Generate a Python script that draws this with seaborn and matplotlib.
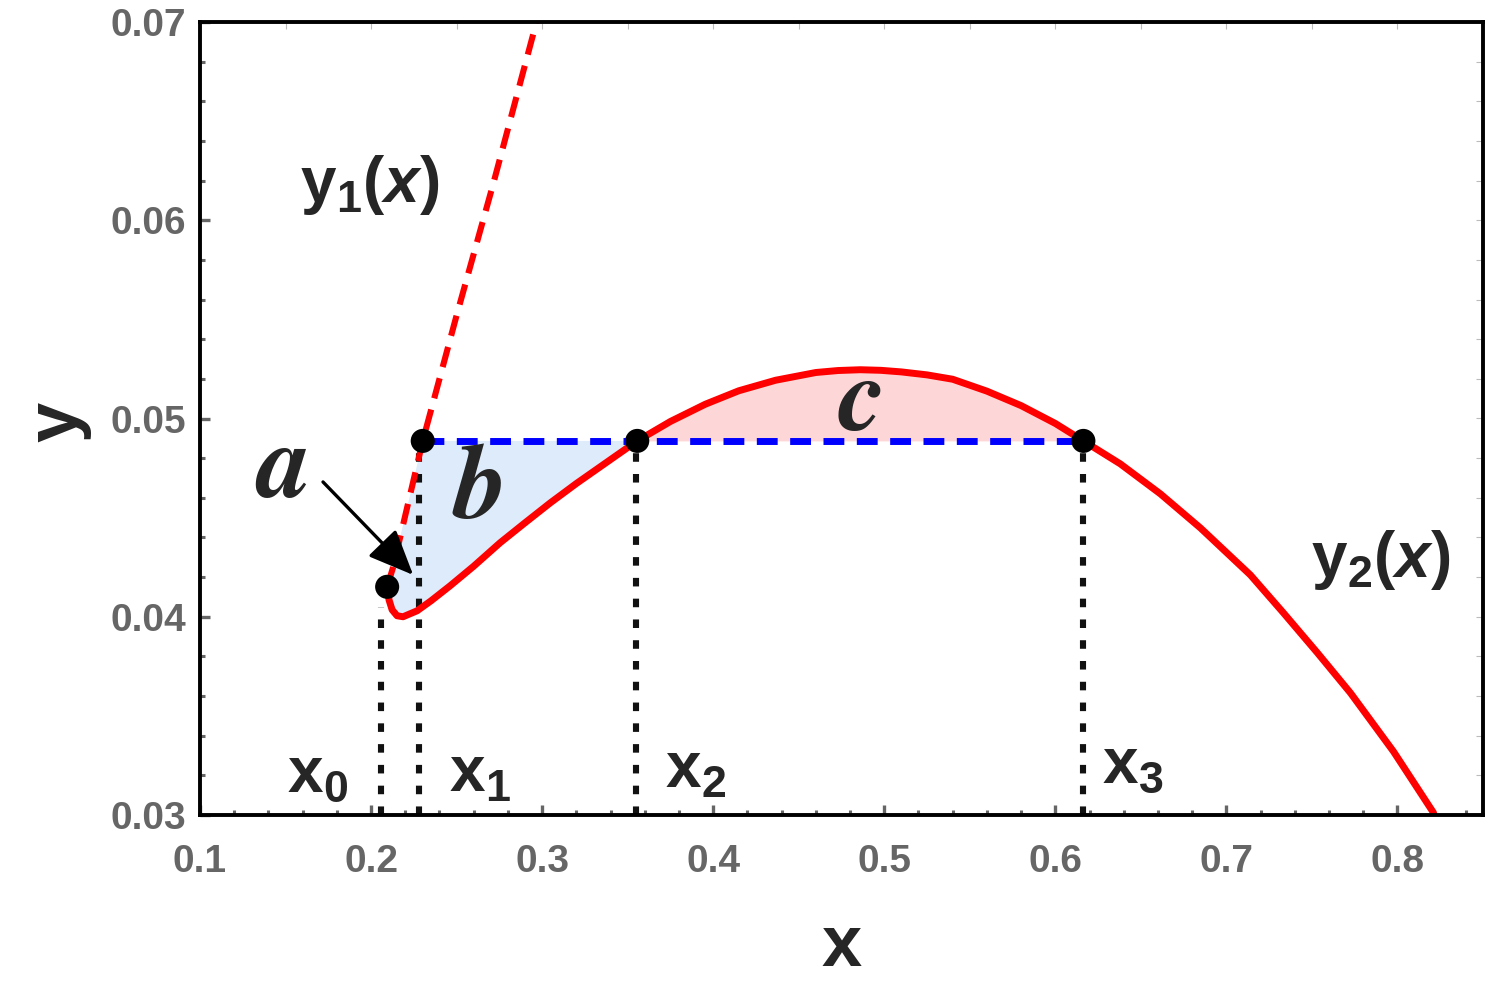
import numpy as np
import matplotlib
matplotlib.use("Agg")
import matplotlib.pyplot as plt
import seaborn as sns

# ---------------- data ----------------
# y2(x): solid red curve
y2_x = [0.2094, 0.2105, 0.2123, 0.2152, 0.2187, 0.2269, 0.2350, 0.2462, 0.2600, 0.2754,
        0.2900, 0.3047, 0.3200, 0.3339, 0.3556, 0.3750, 0.3954, 0.4150, 0.4365, 0.4600,
        0.4730, 0.4860, 0.4980, 0.5100, 0.5250, 0.5400, 0.5600, 0.5800, 0.6000, 0.6164,
        0.6380, 0.6614, 0.6848, 0.7140, 0.7333, 0.7532, 0.7725, 0.7977, 0.8211]
y2_y = [0.04151, 0.04085, 0.04035, 0.04005, 0.04000, 0.04030, 0.04080, 0.04156, 0.04255, 0.04373,
        0.04474, 0.04574, 0.04672, 0.04756, 0.04887, 0.04985, 0.05072, 0.05140, 0.05193, 0.05232,
        0.05242, 0.05246, 0.05243, 0.05235, 0.05220, 0.05198, 0.05138, 0.05065, 0.04975, 0.04887,
        0.04771, 0.04620, 0.04448, 0.04211, 0.04020, 0.03818, 0.03616, 0.03320, 0.03011]
# y1(x): dashed red curve
y1_x = [0.2094, 0.2129, 0.2216, 0.2302, 0.2500, 0.2713, 0.2970]
y1_y = [0.04151, 0.04250, 0.04570, 0.04887, 0.05520, 0.06180, 0.07010]
# equal-area level and special abscissae
y_level = 0.04887
x_marks = [0.2057, 0.2281, 0.3550, 0.6162]      # dotted verticals x0..x3
x_tops = [0.04050, y_level, y_level, y_level]   # top of the dotted verticals
mark_labels = ["0", "1", "2", "3"]
dots_x = [0.2094, 0.2302, 0.3556, 0.6164]
dots_y = [0.04151, y_level, y_level, y_level]
x_ticks = [0.1, 0.2, 0.3, 0.4, 0.5, 0.6, 0.7, 0.8]
y_ticks = [0.03, 0.04, 0.05, 0.06, 0.07]

# ---------------- style ----------------
sns.set_style("white")
plt.rcParams["font.family"] = ["Liberation Sans", "DejaVu Sans"]
plt.rcParams["mathtext.fontset"] = "custom"
plt.rcParams["mathtext.rm"] = "Liberation Sans"
plt.rcParams["mathtext.bf"] = "Liberation Sans:bold"
plt.rcParams["mathtext.it"] = "Liberation Sans:italic"
plt.rcParams["mathtext.bfit"] = "Liberation Sans:bold:italic"

fig = plt.figure(figsize=(15, 9.88), dpi=100)
ax = fig.add_axes([200 / 1500, 173 / 988, 1283 / 1500, 793 / 988])

x2a = np.array(y2_x)
y2a = np.array(y2_y)

# fills
i2 = y2_x.index(0.3556)
i3 = y2_x.index(0.6164)
ax.fill_between(x2a[i2:i3 + 1], y_level, y2a[i2:i3 + 1], color="#FDD7D7", lw=0, zorder=1)
k = y1_x.index(0.2302)
poly_x = y1_x[:k + 1] + [0.3556] + list(x2a[:i2 + 1][::-1])
poly_y = y1_y[:k + 1] + [y_level] + list(y2a[:i2 + 1][::-1])
ax.fill(poly_x, poly_y, color="#DDEBFA", lw=0, zorder=1)

# dotted verticals
for xv, yt in zip(x_marks, x_tops):
    ax.plot([xv, xv], [0.03, yt], color="#111111", lw=4.4, dashes=(1.4, 2.0),
            solid_capstyle="butt", zorder=2)

# horizontal blue dashed
ax.plot([0.2302, 0.6164], [y_level, y_level], color="#0000FF", lw=5.0,
        dashes=(3.0, 1.8), zorder=3)

# curves
sns.lineplot(x=y2_x, y=y2_y, sort=False, estimator=None, color="#FF0000",
             linewidth=5.0, ax=ax, zorder=4)
sns.lineplot(x=y1_x, y=y1_y, sort=False, estimator=None, color="#FF0000",
             linewidth=4.4, ax=ax, zorder=4)
ax.lines[-1].set_dashes((3.4, 1.9))
for ln in ax.lines[-2:]:
    ln.set_solid_joinstyle("round")

sns.scatterplot(x=dots_x, y=dots_y, color="black", s=300, edgecolor="none",
                ax=ax, zorder=6)

# axes
ax.set_xlim(0.1, 0.85)
ax.set_ylim(0.03, 0.07)
ax.set_xticks(x_ticks)
ax.set_yticks(y_ticks)
ax.set_xticklabels([f"{v:g}" for v in x_ticks])
ax.set_yticklabels([f"{v:.2f}" for v in y_ticks])
ax.set_xticks(np.arange(0.1, 0.851, 0.02), minor=True)
ax.set_yticks(np.arange(0.03, 0.0701, 0.002), minor=True)
ax.tick_params(which="major", direction="in", length=7, width=2.4, color="#666666",
               labelsize=28, labelcolor="#666666", pad=21)
ax.tick_params(axis="y", which="major", pad=10)
ax.tick_params(which="minor", direction="in", length=3.5, width=2.2, color="#666666")
ax.tick_params(bottom=True, left=True, which="both")
for lab in ax.get_xticklabels() + ax.get_yticklabels():
    lab.set_fontweight("bold")
for sp in ax.spines.values():
    sp.set_color("black")
    sp.set_linewidth(2.8)
    sp.set_zorder(7)

secx = ax.secondary_xaxis("top")
secx.set_xticks(np.arange(0.15, 0.851, 0.05))
secx.tick_params(direction="in", length=5, width=0.8, color="#BBBBBB", labeltop=False)
secx.set_xticklabels([])
secy = ax.secondary_yaxis("right")
secy.set_yticks(np.arange(0.032, 0.0701, 0.002))
secy.tick_params(direction="in", length=5, width=0.8, color="#BBBBBB", labelright=False)
secy.set_yticklabels([])
for s in [secx, secy]:
    for sp in s.spines.values():
        sp.set_visible(False)

ax.set_xlabel("x", fontsize=52, fontweight="bold")
ax.set_ylabel("y", fontsize=52, fontweight="bold")
ax.xaxis.set_label_coords(0.5004, -0.1665)
ax.xaxis.label.set_va("center")
ax.yaxis.set_label_coords(-0.111, 0.4956)
ax.yaxis.label.set_va("center")

# labels
lab_pos = [(0.1690, 0.03203), (0.2637, 0.03203), (0.3898, 0.03223), (0.6454, 0.03248)]
for (lx, ly), s in zip(lab_pos, mark_labels):
    ax.text(lx, ly, r"$\mathbf{x}_{\mathbf{" + s + "}}$", fontsize=46,
            ha="center", va="center", zorder=8)
ax.text(0.1994, 0.06178, r"$\mathbf{y}_{\mathbf{1}}\mathbf{(}\mathbfit{x}\mathbf{)}$",
        fontsize=46, ha="center", va="center", zorder=8)
ax.text(0.7901, 0.04287, r"$\mathbf{y}_{\mathbf{2}}\mathbf{(}\mathbfit{x}\mathbf{)}$",
        fontsize=46, ha="center", va="center", zorder=8)

serif = dict(family=["STIXGeneral", "Liberation Serif", "DejaVu Serif"], fontweight="bold",
             fontstyle="italic", fontsize=76, ha="center", va="center", zorder=8)
ax.text(0.1491, 0.04736, "a", **serif)
ax.text(0.2637, 0.04630, "b", **serif)
ax.text(0.4871, 0.05074, "c", **serif)

ax.annotate("", xy=(0.2246, 0.04211), xytext=(0.1719, 0.04680),
            arrowprops=dict(arrowstyle="-|>,head_length=0.7,head_width=0.3",
                            color="black", lw=2.4, mutation_scale=40,
                            shrinkA=0, shrinkB=0), zorder=8)

fig.savefig("out.png", dpi=100)
